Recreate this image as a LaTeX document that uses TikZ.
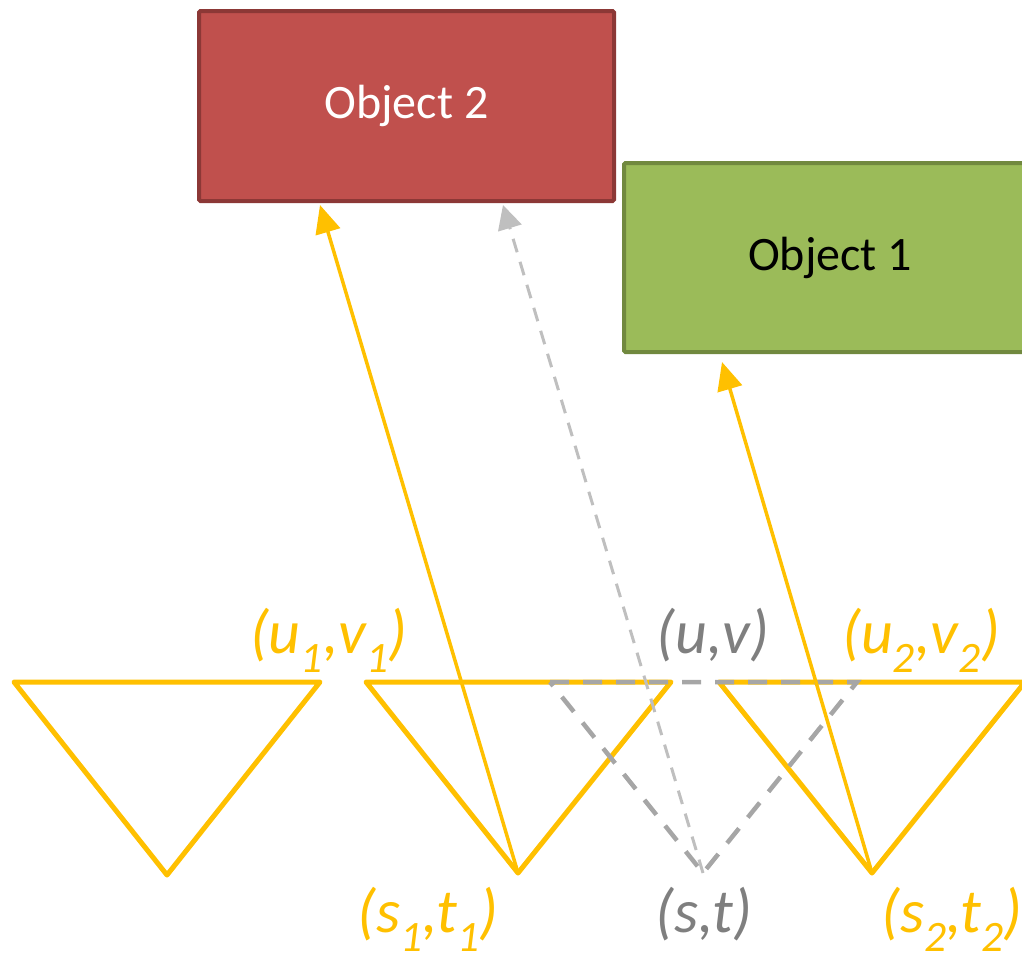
\documentclass[tikz,border=0pt]{standalone}
\usepackage{fontspec}
\setmainfont{Carlito}
\usetikzlibrary{arrows.meta}

\definecolor{objred}{HTML}{C0504D}
\definecolor{objredline}{HTML}{8C3836}
\definecolor{objgreen}{HTML}{9BBB59}
\definecolor{objgreenline}{HTML}{71893F}
\definecolor{gold}{HTML}{FFC000}
\definecolor{greytext}{HTML}{7F7F7F}
\definecolor{greydash}{HTML}{A6A6A6}
\definecolor{greyarrow}{HTML}{BFBFBF}

\tikzset{
  objbox/.style={draw, line width=4pt, inner sep=0pt, rounded corners=1.5pt,
    font=\fontsize{48}{56}\selectfont},
  tri/.style={draw=gold, line width=5pt, line join=round},
  ghosttri/.style={draw=greydash, line width=4.5pt, dash pattern=on 19pt off 14pt},
  goldarrow/.style={draw=gold, line width=3.5pt, -{Triangle[length=28pt,width=25pt]}},
  ghostarrow/.style={draw=greyarrow, line width=3pt, dash pattern=on 14pt off 10pt,
    -{Triangle[length=24pt,width=24pt]}},
  lbl/.style={font=\fontsize{62}{70}\selectfont\itshape, inner sep=0pt, anchor=base}
}

\begin{document}
\begin{tikzpicture}[x=1pt,y=-1pt]
  \useasboundingbox (0,0) rectangle (1022,959);

  % objects
  \node[objbox, fill=objred, draw=objredline, text=white,
        minimum width=415pt, minimum height=190pt] (obj2) at (406.5,106) {Object 2};
  \node[objbox, fill=objgreen, draw=objgreenline, text=black,
        minimum width=412pt, minimum height=189pt] (obj1) at (830,257.5) {Object 1};

  % corners of the patches
  \coordinate (p0a) at (14,682);  \coordinate (p0b) at (320,682);  \coordinate (p0c) at (167,875);
  \coordinate (p1a) at (366,682); \coordinate (p1b) at (671,682);  \coordinate (p1c) at (518,873);
  \coordinate (p2a) at (719,682); \coordinate (p2b) at (1025,682); \coordinate (p2c) at (872,873);
  \coordinate (pxa) at (550,682); \coordinate (pxb) at (857,682);  \coordinate (pxc) at (703,873);

  \draw[tri] (p0a) -- (p0b) -- (p0c) -- cycle;
  \draw[tri] (p1a) -- (p1b) -- (p1c) -- cycle;
  \draw[tri] (p2a) -- (p2b) -- (p2c) -- cycle;
  \draw[ghosttri] (pxa) -- (pxb) -- (pxc) -- cycle;

  % where the rays hit
  \coordinate (h2) at (320,205);
  \coordinate (hx) at (503,205);
  \coordinate (h1) at (722,362);

  \draw[goldarrow] (p1c) -- (h2);
  \draw[goldarrow] (p2c) -- (h1);
  \draw[ghostarrow] (pxc) -- (hx);

  % labels
  \node[lbl, text=gold]     (uv1) at (329,653) {(u\textsubscript{1},v\textsubscript{1})};
  \node[lbl, text=greytext] (uv)  at (713,653) {(u,v)};
  \node[lbl, text=gold]     (uv2) at (921,653) {(u\textsubscript{2},v\textsubscript{2})};
  \node[lbl, text=gold]     (st1) at (428,932) {(s\textsubscript{1},t\textsubscript{1})};
  \node[lbl, text=greytext] (st)  at (704,932) {(s,t)};
  \node[lbl, text=gold]     (st2) at (952,932) {(s\textsubscript{2},t\textsubscript{2})};
\end{tikzpicture}
\end{document}
